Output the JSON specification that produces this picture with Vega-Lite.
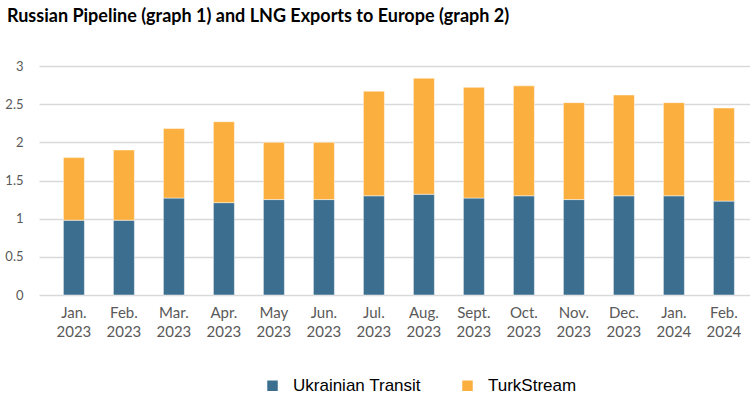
{
  "$schema": "https://vega.github.io/schema/vega-lite/v6.json",
  "width": 711,
  "height": 229,
  "autosize": {"type": "none"},
  "padding": {"left": 39, "top": 66, "right": 0, "bottom": 117},
  "background": "white",
  "title": {
    "text": "Russian Pipeline (graph 1) and LNG Exports to Europe (graph 2)",
    "anchor": "start",
    "frame": "group",
    "dx": -32,
    "offset": 34,
    "font": "Lato",
    "fontSize": 18,
    "fontWeight": "bold",
    "color": "#000000"
  },
  "data": {
    "values": [
      {"month": "Jan.|2023", "series": "Ukrainian Transit", "value": 0.98},
      {"month": "Jan.|2023", "series": "TurkStream", "value": 0.82},
      {"month": "Feb.|2023", "series": "Ukrainian Transit", "value": 0.98},
      {"month": "Feb.|2023", "series": "TurkStream", "value": 0.92},
      {"month": "Mar.|2023", "series": "Ukrainian Transit", "value": 1.27},
      {"month": "Mar.|2023", "series": "TurkStream", "value": 0.91},
      {"month": "Apr.|2023", "series": "Ukrainian Transit", "value": 1.21},
      {"month": "Apr.|2023", "series": "TurkStream", "value": 1.06},
      {"month": "May|2023", "series": "Ukrainian Transit", "value": 1.25},
      {"month": "May|2023", "series": "TurkStream", "value": 0.75},
      {"month": "Jun.|2023", "series": "Ukrainian Transit", "value": 1.25},
      {"month": "Jun.|2023", "series": "TurkStream", "value": 0.75},
      {"month": "Jul.|2023", "series": "Ukrainian Transit", "value": 1.3},
      {"month": "Jul.|2023", "series": "TurkStream", "value": 1.37},
      {"month": "Aug.|2023", "series": "Ukrainian Transit", "value": 1.32},
      {"month": "Aug.|2023", "series": "TurkStream", "value": 1.52},
      {"month": "Sept.|2023", "series": "Ukrainian Transit", "value": 1.27},
      {"month": "Sept.|2023", "series": "TurkStream", "value": 1.45},
      {"month": "Oct.|2023", "series": "Ukrainian Transit", "value": 1.3},
      {"month": "Oct.|2023", "series": "TurkStream", "value": 1.44},
      {"month": "Nov.|2023", "series": "Ukrainian Transit", "value": 1.25},
      {"month": "Nov.|2023", "series": "TurkStream", "value": 1.27},
      {"month": "Dec.|2023", "series": "Ukrainian Transit", "value": 1.3},
      {"month": "Dec.|2023", "series": "TurkStream", "value": 1.32},
      {"month": "Jan.|2024", "series": "Ukrainian Transit", "value": 1.3},
      {"month": "Jan.|2024", "series": "TurkStream", "value": 1.22},
      {"month": "Feb.|2024", "series": "Ukrainian Transit", "value": 1.23},
      {"month": "Feb.|2024", "series": "TurkStream", "value": 1.22}
    ]
  },
  "mark": {"type": "bar", "stroke": "#ffffff", "strokeWidth": 0.8, "strokeOpacity": 0.6},
  "encoding": {
    "x": {
      "field": "month",
      "type": "nominal",
      "sort": null,
      "scale": {"paddingInner": 0.58, "paddingOuter": 0.4, "align": 0.61},
      "axis": {
        "title": null,
        "labelAngle": 0,
        "labelExpr": "split(datum.value, '|')",
        "labelFont": "Lato, Roboto",
        "labelFontSize": 15,
        "labelColor": "#595959",
        "labelLineHeight": 19,
        "labelPadding": 10,
        "domain": false,
        "ticks": false
      }
    },
    "y": {
      "field": "value",
      "type": "quantitative",
      "stack": "zero",
      "scale": {"domain": [0, 3], "nice": false},
      "axis": {
        "title": null,
        "values": [0, 0.5, 1, 1.5, 2, 2.5, 3],
        "format": "~g",
        "labelFont": "Lato, Roboto",
        "labelFontSize": 13,
        "labelColor": "#595959",
        "labelPadding": 16,
        "domain": false,
        "ticks": false,
        "gridColor": "#d9d9d9",
        "gridWidth": 1.5
      }
    },
    "color": {
      "field": "series",
      "type": "nominal",
      "scale": {"domain": ["Ukrainian Transit", "TurkStream"], "range": ["#3c6e8f", "#fbaf3f"]},
      "legend": {
        "title": null,
        "orient": "none",
        "direction": "horizontal",
        "legendX": 225,
        "legendY": 311,
        "symbolType": "square",
        "symbolSize": 110,
        "symbolStrokeWidth": 0,
        "labelFont": "Liberation Sans, Carlito",
        "labelFontSize": 17,
        "labelColor": "#000000",
        "labelOffset": 12,
        "columnPadding": 38
      }
    },
    "order": {"field": "series", "sort": "descending"}
  },
  "config": {"view": {"stroke": null}}
}
